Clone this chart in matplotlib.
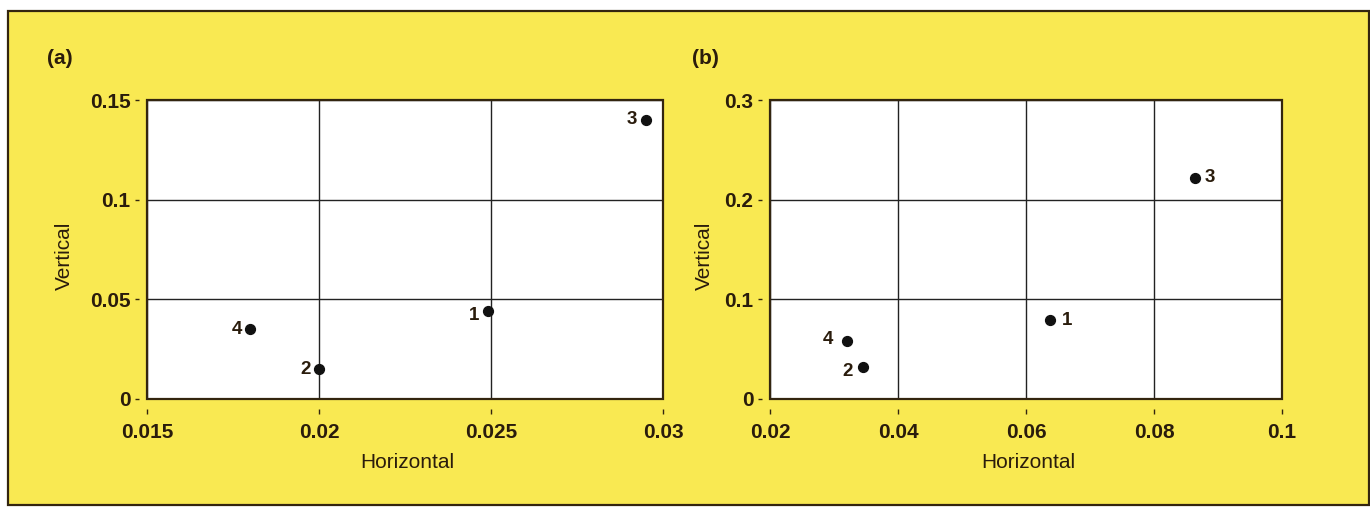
import matplotlib
matplotlib.use("Agg")
import matplotlib.pyplot as plt
from matplotlib.patches import Rectangle

# ---- data ----
point_labels = ['1', '2', '3', '4']
a_horizontal = [0.0249, 0.0200, 0.0295, 0.0180]
a_vertical = [0.044, 0.015, 0.140, 0.035]
b_horizontal = [0.0638, 0.0345, 0.0864, 0.0320]
b_vertical = [0.079, 0.032, 0.222, 0.058]

a_xticks = [0.015, 0.02, 0.025, 0.03]
a_xticklabels = ['0.015', '0.02', '0.025', '0.03']
a_yticks = [0, 0.05, 0.1, 0.15]
a_yticklabels = ['0', '0.05', '0.1', '0.15']
b_xticks = [0.02, 0.04, 0.06, 0.08, 0.1]
b_xticklabels = ['0.02', '0.04', '0.06', '0.08', '0.1']
b_yticks = [0, 0.1, 0.2, 0.3]
b_yticklabels = ['0', '0.1', '0.2', '0.3']

# ---- style ----
plt.rcParams['font.family'] = ['Liberation Sans', 'DejaVu Sans']
W, H = 1370, 507
YELLOW = '#F9E952'
TXT = '#2a1c0c'
DARK = '#33250f'

fig = plt.figure(figsize=(W / 100, H / 100), dpi=100, facecolor='white')

# yellow panel with frame
fig.patches.append(Rectangle((8 / W, 1 - 505 / H), (1369 - 8) / W, (505 - 11) / H,
                             transform=fig.transFigure, facecolor=YELLOW,
                             edgecolor=DARK, linewidth=1.6, zorder=-10))


def px_axes(l, t, r, b):
    return [l / W, 1 - b / H, (r - l) / W, (b - t) / H]


def setup(ax, xt, xtl, yt, ytl, xlim, ylim, ylab_x, xs, ys, offsets):
    ax.set_facecolor('white')
    ax.set_xlim(*xlim)
    ax.set_ylim(*ylim)
    ax.set_xticks(xt)
    ax.set_xticklabels(xtl)
    ax.set_yticks(yt)
    ax.set_yticklabels(ytl)
    for s in ax.spines.values():
        s.set_visible(False)
    ax.spines['bottom'].set_position(('outward', 7.5))
    ax.spines['left'].set_position(('outward', 5.5))
    ax.tick_params(axis='x', direction='out', length=3.6, width=1.0, color=DARK,
                   pad=6.5, labelsize=15, labelcolor=TXT)
    ax.tick_params(axis='y', direction='out', length=2.8, width=1.0, color=DARK,
                   pad=3.5, labelsize=15, labelcolor=TXT)
    for lab in ax.get_xticklabels() + ax.get_yticklabels():
        lab.set_fontweight('bold')
    ax.grid(True, color='#222222', linewidth=1.0)
    ax.set_axisbelow(True)
    ax.add_patch(Rectangle((0, 0), 1, 1, transform=ax.transAxes, fill=False,
                           edgecolor=DARK, linewidth=1.6, zorder=3, clip_on=False))
    ax.set_xlabel('Horizontal', fontsize=15, color=TXT, va='center')
    ax.xaxis.set_label_coords(0.505, -0.212)
    ax.set_ylabel('Vertical', fontsize=15, color=TXT, va='center')
    ax.yaxis.set_label_coords(ylab_x, 0.48)
    ax.scatter(xs, ys, s=50, color='#111111', zorder=4, clip_on=False)
    for lab, x, y, (dx, dy, ha) in zip(point_labels, xs, ys, offsets):
        ax.annotate(lab, (x, y), xytext=(dx, dy), textcoords='offset points',
                    ha=ha, va='center', fontsize=13.5, fontweight='bold', color=TXT,
                    zorder=5)


ax_a = fig.add_axes(px_axes(147, 100, 663, 399))
ax_b = fig.add_axes(px_axes(770, 100, 1282, 399))

off_a = [(-6, -3, 'right'), (-6, 0, 'right'), (-6, 0, 'right'), (-6, 0, 'right')]
off_b = [(8, 0, 'left'), (-7, -3, 'right'), (7, 0, 'left'), (-10, 1, 'right')]

setup(ax_a, a_xticks, a_xticklabels, a_yticks, a_yticklabels,
      (0.015, 0.03), (0, 0.15), -0.16, a_horizontal, a_vertical, off_a)
setup(ax_b, b_xticks, b_xticklabels, b_yticks, b_yticklabels,
      (0.02, 0.1), (0, 0.3), -0.129, b_horizontal, b_vertical, off_b)

fig.text(60 / W, 1 - 58 / H, '(a)', fontsize=15, fontweight='bold', color=TXT,
         ha='center', va='center')
fig.text(705 / W, 1 - 58 / H, '(b)', fontsize=15, fontweight='bold', color=TXT,
         ha='center', va='center')

fig.savefig('out.png', dpi=100, facecolor=fig.get_facecolor())
